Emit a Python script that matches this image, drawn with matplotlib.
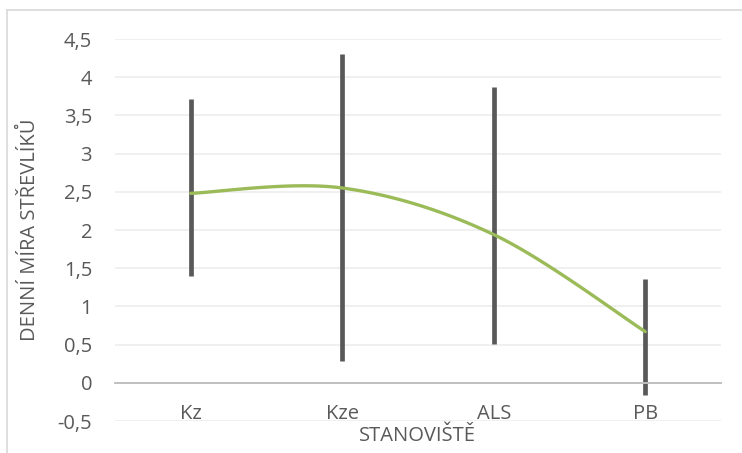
import numpy as np
import matplotlib
matplotlib.use("Agg")
import matplotlib.pyplot as plt

# data
sites = ["Kz", "Kze", "ALS", "PB"]
means = [2.48, 2.55, 1.94, 0.67]
lows = [1.40, 0.29, 0.51, -0.16]
highs = [3.72, 4.31, 3.87, 1.36]
yticks = [-0.5, 0, 0.5, 1, 1.5, 2, 2.5, 3, 3.5, 4, 4.5]

TXT = "#595959"
FS = 14.5
plt.rcParams["font.family"] = ["Open Sans", "DejaVu Sans"]


def smooth(xs, ys, n=40):
    # Excel-style smoothed line (Catmull-Rom as cubic Bezier)
    px = [xs[0]] + list(xs) + [xs[-1]]
    py = [ys[0]] + list(ys) + [ys[-1]]
    t = np.linspace(0, 1, n)
    ox, oy = [], []
    for i in range(1, len(px) - 2):
        b0 = (px[i], py[i])
        b1 = (px[i] + (px[i + 1] - px[i - 1]) / 6, py[i] + (py[i + 1] - py[i - 1]) / 6)
        b2 = (px[i + 1] - (px[i + 2] - px[i]) / 6, py[i + 1] - (py[i + 2] - py[i]) / 6)
        b3 = (px[i + 1], py[i + 1])
        for k in range(2):
            c = [b0[k], b1[k], b2[k], b3[k]]
            v = ((1 - t) ** 3 * c[0] + 3 * (1 - t) ** 2 * t * c[1]
                 + 3 * (1 - t) * t ** 2 * c[2] + t ** 3 * c[3])
            (ox if k == 0 else oy).extend(v)
    return ox, oy


fig = plt.figure(figsize=(7.42, 4.53), dpi=100)
ax = fig.add_axes([115 / 742, 32 / 453, 606 / 742, 382 / 453])

x = np.arange(len(sites))
ax.set_xlim(-0.5, len(sites) - 0.5)
ax.set_ylim(-0.5, 4.5)

for yv in yticks:
    if yv != 0:
        ax.axhline(yv, color="#f0f0f0", lw=1.4, zorder=0)

ax.vlines(x, lows, highs, color="#595959", lw=3.4, zorder=2)
sx, sy = smooth(x, means)
ax.plot(sx, sy, color="#9bbb59", lw=2.4, zorder=3, solid_capstyle="round")

for s in ["top", "right", "left"]:
    ax.spines[s].set_visible(False)
ax.spines["bottom"].set_position(("data", 0))
ax.spines["bottom"].set_color("#bfbfbf")
ax.spines["bottom"].set_linewidth(1.4)

ax.set_xticks(x)
ax.set_xticklabels(sites)
ax.set_yticks(yticks)
ax.set_yticklabels([f"{v:g}".replace(".", ",") for v in yticks])
ax.tick_params(axis="both", length=0, labelsize=FS, colors=TXT)
ax.tick_params(axis="x", pad=15)
ax.tick_params(axis="y", pad=16.5)

fig.text(30 / 742, 1 - 230 / 453, "DENNÍ MÍRA STŘEVLÍKŮ", rotation=90,
         ha="center", va="center", fontsize=FS, color=TXT)
fig.text(417 / 742, 1 - 436 / 453, "STANOVIŠTĚ", ha="center", va="center",
         fontsize=FS, color=TXT)

# light chart-area border (top and left visible in the reference)
fig.add_artist(plt.Line2D([7 / 742, 7 / 742], [0, 1 - 10 / 453],
                          transform=fig.transFigure, color="#d9d9d9", lw=1.2))
fig.add_artist(plt.Line2D([7 / 742, 1], [1 - 10 / 453, 1 - 10 / 453],
                          transform=fig.transFigure, color="#d9d9d9", lw=1.2))

fig.savefig("out.png", dpi=100)
